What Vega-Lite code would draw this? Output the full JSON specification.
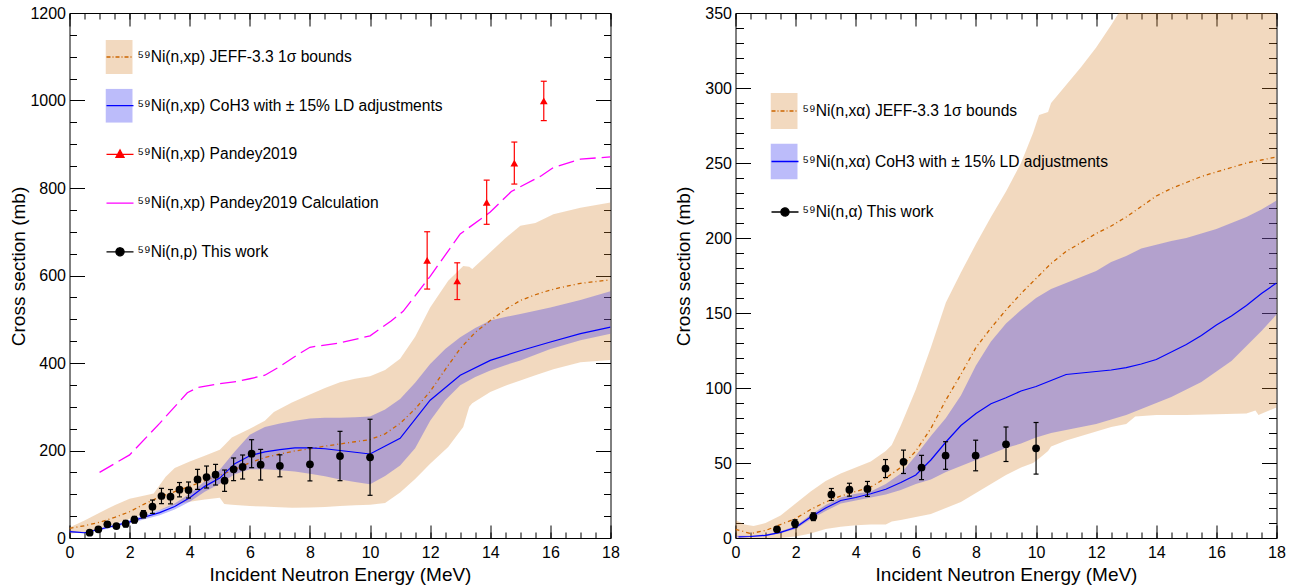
{
  "$schema": "https://vega.github.io/schema/vega-lite/v6.json",
  "background": "white",
  "padding": {"left": 8.5, "top": 4, "right": 5, "bottom": 5},
  "bounds": "flush",
  "spacing": 125,
  "config": {
    "font": "Liberation Sans",
    "view": {"stroke": "#000", "strokeWidth": 1},
    "axis": {"labelFont": "Liberation Sans", "titleFont": "Liberation Sans", "labelFontSize": 16, "titleFontSize": 19, "titleFontWeight": "normal", "labelColor": "#000", "titleColor": "#000", "domainColor": "#000", "tickColor": "#000", "domainWidth": 1, "tickWidth": 1, "grid": false, "ticks": true, "domain": false, "zindex": 1, "labelFlush": false, "labelOverlap": false, "labelBound": false}
  },
  "resolve": {
    "scale": {"x": "independent", "y": "independent", "fill": "independent", "stroke": "independent"},
    "legend": {"fill": "independent", "stroke": "independent"}
  },
  "datasets": {
    "l_jeff_band": [
      {"E": 0, "lo": 10, "hi": 24}, {"E": 0.5, "lo": 14, "hi": 40}, {"E": 1, "lo": 22, "hi": 58}, {"E": 1.5, "lo": 32, "hi": 75},
      {"E": 2, "lo": 44, "hi": 90}, {"E": 2.5, "lo": 55, "hi": 97}, {"E": 2.8, "lo": 60, "hi": 102}, {"E": 3.2, "lo": 68, "hi": 140},
      {"E": 3.5, "lo": 76, "hi": 160}, {"E": 4, "lo": 83, "hi": 175}, {"E": 4.5, "lo": 88, "hi": 188}, {"E": 5, "lo": 92, "hi": 202},
      {"E": 5.15, "lo": 78, "hi": 212}, {"E": 5.4, "lo": 76, "hi": 230}, {"E": 6, "lo": 73, "hi": 250}, {"E": 6.5, "lo": 72, "hi": 268},
      {"E": 6.8, "lo": 71, "hi": 288}, {"E": 7.4, "lo": 69, "hi": 310}, {"E": 8, "lo": 70, "hi": 328}, {"E": 8.5, "lo": 71, "hi": 343},
      {"E": 9, "lo": 73, "hi": 356}, {"E": 9.5, "lo": 75, "hi": 364}, {"E": 10, "lo": 76, "hi": 370}, {"E": 10.5, "lo": 80, "hi": 384},
      {"E": 11, "lo": 104, "hi": 410}, {"E": 11.5, "lo": 135, "hi": 460}, {"E": 12, "lo": 170, "hi": 527}, {"E": 12.6, "lo": 208, "hi": 588},
      {"E": 13.1, "lo": 254, "hi": 622}, {"E": 13.3, "lo": 300, "hi": 620}, {"E": 13.4, "lo": 308, "hi": 615}, {"E": 14, "lo": 334, "hi": 653},
      {"E": 14.5, "lo": 348, "hi": 685}, {"E": 15, "lo": 360, "hi": 714}, {"E": 15.5, "lo": 372, "hi": 720}, {"E": 16.1, "lo": 386, "hi": 740},
      {"E": 17, "lo": 402, "hi": 755}, {"E": 18, "lo": 407, "hi": 767}
    ],
    "l_coh_band": [
      {"E": 0, "lo": 12, "hi": 17}, {"E": 0.5, "lo": 11, "hi": 13.5}, {"E": 1, "lo": 17, "hi": 23}, {"E": 1.5, "lo": 25, "hi": 31},
      {"E": 2, "lo": 33, "hi": 41}, {"E": 2.5, "lo": 43, "hi": 53}, {"E": 3, "lo": 52, "hi": 64}, {"E": 3.5, "lo": 65, "hi": 79},
      {"E": 4, "lo": 83, "hi": 101}, {"E": 4.5, "lo": 106, "hi": 130}, {"E": 5, "lo": 124, "hi": 156}, {"E": 5.5, "lo": 146, "hi": 198},
      {"E": 6, "lo": 157, "hi": 236}, {"E": 6.5, "lo": 157, "hi": 254}, {"E": 7, "lo": 155, "hi": 262}, {"E": 7.5, "lo": 152, "hi": 268},
      {"E": 8, "lo": 147, "hi": 273}, {"E": 8.5, "lo": 141, "hi": 275}, {"E": 9, "lo": 134, "hi": 275}, {"E": 9.5, "lo": 128, "hi": 276},
      {"E": 10, "lo": 123, "hi": 278}, {"E": 10.5, "lo": 142, "hi": 294}, {"E": 11, "lo": 166, "hi": 318}, {"E": 11.5, "lo": 205, "hi": 355},
      {"E": 12, "lo": 268, "hi": 398}, {"E": 12.5, "lo": 315, "hi": 432}, {"E": 13, "lo": 349, "hi": 459}, {"E": 13.5, "lo": 368, "hi": 480},
      {"E": 14, "lo": 383, "hi": 497}, {"E": 14.5, "lo": 395, "hi": 505}, {"E": 15, "lo": 406, "hi": 512}, {"E": 16, "lo": 432, "hi": 527},
      {"E": 17, "lo": 452, "hi": 544}, {"E": 18, "lo": 467, "hi": 564}
    ],
    "l_jeff_line": [
      {"E": 0, "y": 22}, {"E": 0.5, "y": 28}, {"E": 1, "y": 36}, {"E": 1.5, "y": 47}, {"E": 2, "y": 60}, {"E": 2.5, "y": 78},
      {"E": 3, "y": 94}, {"E": 3.5, "y": 106}, {"E": 4, "y": 118}, {"E": 4.5, "y": 131}, {"E": 5, "y": 143}, {"E": 5.5, "y": 157},
      {"E": 6, "y": 172}, {"E": 6.5, "y": 184}, {"E": 7, "y": 192}, {"E": 7.5, "y": 199}, {"E": 8, "y": 204}, {"E": 8.5, "y": 210},
      {"E": 9, "y": 215}, {"E": 9.5, "y": 220}, {"E": 10, "y": 225}, {"E": 10.5, "y": 238}, {"E": 11, "y": 262}, {"E": 11.5, "y": 295},
      {"E": 12, "y": 335}, {"E": 12.5, "y": 385}, {"E": 13, "y": 433}, {"E": 13.5, "y": 470}, {"E": 14, "y": 497}, {"E": 14.5, "y": 522},
      {"E": 15, "y": 543}, {"E": 15.5, "y": 556}, {"E": 16, "y": 567}, {"E": 16.5, "y": 575}, {"E": 17, "y": 582}, {"E": 17.5, "y": 586},
      {"E": 18, "y": 590}
    ],
    "l_coh_line": [
      {"E": 0, "y": 14.5}, {"E": 0.5, "y": 12}, {"E": 1, "y": 20}, {"E": 1.5, "y": 28}, {"E": 2, "y": 37}, {"E": 2.5, "y": 48},
      {"E": 3, "y": 58}, {"E": 3.5, "y": 72}, {"E": 4, "y": 92}, {"E": 4.5, "y": 118}, {"E": 5, "y": 137}, {"E": 5.5, "y": 170},
      {"E": 6, "y": 188}, {"E": 6.5, "y": 197}, {"E": 7, "y": 202}, {"E": 7.5, "y": 206}, {"E": 8, "y": 206}, {"E": 8.5, "y": 204},
      {"E": 9, "y": 200}, {"E": 9.5, "y": 196}, {"E": 10, "y": 192}, {"E": 11, "y": 228}, {"E": 12, "y": 315}, {"E": 13, "y": 372},
      {"E": 14, "y": 406}, {"E": 15, "y": 428}, {"E": 16, "y": 448}, {"E": 17, "y": 467}, {"E": 18, "y": 482}
    ],
    "l_calc_line": [
      {"E": 1, "y": 150}, {"E": 2, "y": 190}, {"E": 3, "y": 262}, {"E": 3.92, "y": 332}, {"E": 4.26, "y": 344}, {"E": 5, "y": 353},
      {"E": 5.6, "y": 358}, {"E": 6, "y": 364}, {"E": 6.5, "y": 372}, {"E": 7, "y": 392}, {"E": 7.5, "y": 415}, {"E": 8, "y": 436},
      {"E": 9, "y": 446}, {"E": 10, "y": 462}, {"E": 10.7, "y": 496}, {"E": 11.1, "y": 518}, {"E": 12, "y": 598}, {"E": 13, "y": 695},
      {"E": 14, "y": 745}, {"E": 14.7, "y": 792}, {"E": 15.7, "y": 828}, {"E": 16.1, "y": 847}, {"E": 17, "y": 866}, {"E": 18, "y": 871}
    ],
    "l_pandey": [
      {"E": 11.9, "y": 634.7, "lo": 569, "hi": 700}, {"E": 12.9, "y": 587.4, "lo": 545, "hi": 629},
      {"E": 13.88, "y": 767.3, "lo": 717, "hi": 818}, {"E": 14.8, "y": 857, "lo": 809, "hi": 905},
      {"E": 15.78, "y": 999, "lo": 954, "hi": 1044}
    ],
    "l_work": [
      {"E": 0.67, "y": 12.1, "lo": 8.1, "hi": 16.1}, {"E": 0.96, "y": 19.9, "lo": 14.9, "hi": 24.9},
      {"E": 1.26, "y": 31.3, "lo": 26.3, "hi": 36.3}, {"E": 1.56, "y": 27.4, "lo": 22.4, "hi": 32.4},
      {"E": 1.87, "y": 32.7, "lo": 25.1, "hi": 40.3}, {"E": 2.16, "y": 41.8, "lo": 34.2, "hi": 49.4},
      {"E": 2.46, "y": 54.2, "lo": 45.8, "hi": 62.6}, {"E": 2.76, "y": 71.5, "lo": 56.3, "hi": 86.7},
      {"E": 3.06, "y": 96, "lo": 78.5, "hi": 113.5}, {"E": 3.36, "y": 94.4, "lo": 78, "hi": 110.8},
      {"E": 3.66, "y": 110.4, "lo": 94, "hi": 126.8}, {"E": 3.96, "y": 109.7, "lo": 91.4, "hi": 128},
      {"E": 4.26, "y": 134, "lo": 111.1, "hi": 156.9}, {"E": 4.56, "y": 139.4, "lo": 114.3, "hi": 164.5},
      {"E": 4.86, "y": 144.7, "lo": 121.1, "hi": 168.3}, {"E": 5.16, "y": 131, "lo": 106.6, "hi": 155.4},
      {"E": 5.46, "y": 157, "lo": 131.1, "hi": 182.9}, {"E": 5.76, "y": 162.3, "lo": 134.9, "hi": 189.7},
      {"E": 6.06, "y": 192.7, "lo": 160.7, "hi": 224.7}, {"E": 6.36, "y": 167.5, "lo": 132.5, "hi": 202.5},
      {"E": 7.0, "y": 165, "lo": 139.9, "hi": 190.1}, {"E": 8.0, "y": 168.5, "lo": 130.5, "hi": 206.5},
      {"E": 9.0, "y": 187.4, "lo": 131, "hi": 243.8}, {"E": 10.0, "y": 184.5, "lo": 97.6, "hi": 271.4}
    ],
    "r_jeff_band": [
      {"E": 0, "lo": 0, "hi": 12}, {"E": 0.3, "lo": 0, "hi": 9}, {"E": 0.6, "lo": 0, "hi": 8}, {"E": 1, "lo": 0, "hi": 10},
      {"E": 1.5, "lo": 0, "hi": 15}, {"E": 2, "lo": 1, "hi": 23}, {"E": 2.5, "lo": 3, "hi": 31}, {"E": 3, "lo": 6, "hi": 38},
      {"E": 3.5, "lo": 7.5, "hi": 43}, {"E": 4, "lo": 8.5, "hi": 47}, {"E": 4.5, "lo": 9, "hi": 51}, {"E": 5, "lo": 9, "hi": 58},
      {"E": 5.2, "lo": 11, "hi": 62}, {"E": 5.5, "lo": 12, "hi": 75}, {"E": 6, "lo": 14, "hi": 99}, {"E": 6.5, "lo": 16, "hi": 127},
      {"E": 7, "lo": 20, "hi": 157}, {"E": 7.5, "lo": 24, "hi": 177}, {"E": 8, "lo": 30, "hi": 196}, {"E": 8.5, "lo": 36, "hi": 214},
      {"E": 9, "lo": 42, "hi": 231}, {"E": 9.5, "lo": 47, "hi": 250}, {"E": 9.9, "lo": 50, "hi": 270}, {"E": 10.1, "lo": 53, "hi": 282},
      {"E": 10.4, "lo": 58, "hi": 284}, {"E": 10.5, "lo": 61, "hi": 290}, {"E": 11, "lo": 65, "hi": 302}, {"E": 11.5, "lo": 68, "hi": 314},
      {"E": 12, "lo": 71, "hi": 327}, {"E": 12.5, "lo": 74, "hi": 342}, {"E": 13, "lo": 76, "hi": 358}, {"E": 13.3, "lo": 81, "hi": 368},
      {"E": 14, "lo": 82, "hi": 390}, {"E": 15, "lo": 82, "hi": 420}, {"E": 16, "lo": 82.5, "hi": 450}, {"E": 17, "lo": 83, "hi": 475},
      {"E": 17.3, "lo": 85, "hi": 480}, {"E": 17.4, "lo": 82, "hi": 482}, {"E": 18, "lo": 87, "hi": 495}
    ],
    "r_coh_band": [
      {"E": 0, "lo": 0.5, "hi": 1.5}, {"E": 0.5, "lo": 0.7, "hi": 1.5}, {"E": 1, "lo": 1.2, "hi": 2.4}, {"E": 1.5, "lo": 3.2, "hi": 4.5},
      {"E": 2, "lo": 6, "hi": 8}, {"E": 2.5, "lo": 12.5, "hi": 15.5}, {"E": 3, "lo": 18, "hi": 22}, {"E": 3.5, "lo": 23, "hi": 27},
      {"E": 4, "lo": 25, "hi": 29.5}, {"E": 4.5, "lo": 27, "hi": 31}, {"E": 5, "lo": 29, "hi": 36}, {"E": 5.5, "lo": 32, "hi": 43},
      {"E": 6, "lo": 36, "hi": 55}, {"E": 6.5, "lo": 39, "hi": 68}, {"E": 7, "lo": 44, "hi": 80}, {"E": 7.5, "lo": 48, "hi": 95},
      {"E": 8, "lo": 52, "hi": 115}, {"E": 8.5, "lo": 56, "hi": 131}, {"E": 9, "lo": 60, "hi": 143}, {"E": 9.5, "lo": 63, "hi": 152},
      {"E": 10, "lo": 67, "hi": 160}, {"E": 10.5, "lo": 70, "hi": 166}, {"E": 11, "lo": 72, "hi": 170}, {"E": 11.5, "lo": 74, "hi": 174},
      {"E": 12, "lo": 76, "hi": 178}, {"E": 12.5, "lo": 79, "hi": 184}, {"E": 13, "lo": 82, "hi": 188}, {"E": 13.5, "lo": 86, "hi": 193},
      {"E": 14, "lo": 90, "hi": 195.5}, {"E": 14.5, "lo": 94, "hi": 198}, {"E": 15, "lo": 99, "hi": 200}, {"E": 15.5, "lo": 104, "hi": 203},
      {"E": 16, "lo": 111, "hi": 206}, {"E": 16.5, "lo": 118, "hi": 210}, {"E": 17, "lo": 128, "hi": 214}, {"E": 17.5, "lo": 138, "hi": 219},
      {"E": 18, "lo": 149, "hi": 225}
    ],
    "r_jeff_line": [
      {"E": 0, "y": 5.8}, {"E": 0.5, "y": 3}, {"E": 1, "y": 5}, {"E": 1.5, "y": 9}, {"E": 2, "y": 13}, {"E": 2.5, "y": 19},
      {"E": 3, "y": 24}, {"E": 3.5, "y": 28}, {"E": 4, "y": 31}, {"E": 4.5, "y": 34}, {"E": 5, "y": 40}, {"E": 5.5, "y": 47},
      {"E": 6, "y": 58}, {"E": 6.5, "y": 73}, {"E": 7, "y": 92}, {"E": 7.5, "y": 109}, {"E": 8, "y": 127}, {"E": 8.5, "y": 140},
      {"E": 9, "y": 152}, {"E": 9.5, "y": 163}, {"E": 10, "y": 173}, {"E": 10.5, "y": 183}, {"E": 11, "y": 191}, {"E": 11.5, "y": 197},
      {"E": 12, "y": 203}, {"E": 12.5, "y": 208}, {"E": 13, "y": 214}, {"E": 13.5, "y": 221}, {"E": 14, "y": 228}, {"E": 14.5, "y": 233},
      {"E": 15, "y": 237}, {"E": 15.5, "y": 241}, {"E": 16, "y": 244}, {"E": 16.5, "y": 247}, {"E": 17, "y": 250}, {"E": 17.5, "y": 252},
      {"E": 18, "y": 254}
    ],
    "r_coh_line": [
      {"E": 0.1, "y": 0.8}, {"E": 0.5, "y": 1}, {"E": 1, "y": 1.8}, {"E": 1.5, "y": 3.8}, {"E": 2, "y": 7}, {"E": 2.5, "y": 14},
      {"E": 3, "y": 20}, {"E": 3.5, "y": 25}, {"E": 4, "y": 27}, {"E": 4.5, "y": 29.5}, {"E": 5, "y": 32.5}, {"E": 5.5, "y": 37},
      {"E": 6, "y": 42}, {"E": 6.5, "y": 52}, {"E": 7, "y": 64}, {"E": 7.5, "y": 75}, {"E": 8, "y": 83}, {"E": 8.5, "y": 89.5},
      {"E": 9, "y": 93.5}, {"E": 9.5, "y": 98}, {"E": 10, "y": 101}, {"E": 10.5, "y": 105}, {"E": 11, "y": 109}, {"E": 11.5, "y": 110},
      {"E": 12, "y": 111}, {"E": 12.5, "y": 112}, {"E": 13, "y": 113.6}, {"E": 13.5, "y": 116}, {"E": 14, "y": 119}, {"E": 14.5, "y": 124},
      {"E": 15, "y": 129}, {"E": 15.5, "y": 135}, {"E": 16, "y": 142}, {"E": 16.5, "y": 148}, {"E": 17, "y": 155}, {"E": 17.5, "y": 163},
      {"E": 18, "y": 170}
    ],
    "r_work": [
      {"E": 1.38, "y": 5.8, "lo": 4.8, "hi": 6.8}, {"E": 1.98, "y": 9.6, "lo": 7, "hi": 12.2},
      {"E": 2.59, "y": 14.2, "lo": 11.6, "hi": 16.8}, {"E": 3.19, "y": 29, "lo": 25, "hi": 33},
      {"E": 3.79, "y": 32.2, "lo": 27.9, "hi": 36.5}, {"E": 4.39, "y": 32.7, "lo": 27.7, "hi": 37.7},
      {"E": 4.99, "y": 46.3, "lo": 40.3, "hi": 52.3}, {"E": 5.59, "y": 50.8, "lo": 43, "hi": 58.6},
      {"E": 6.19, "y": 47, "lo": 38.9, "hi": 55.1}, {"E": 6.99, "y": 55, "lo": 45.8, "hi": 64.2},
      {"E": 7.99, "y": 55, "lo": 44.8, "hi": 65.2}, {"E": 9.0, "y": 62.5, "lo": 51, "hi": 74},
      {"E": 10.0, "y": 59.8, "lo": 42.6, "hi": 77}
    ]
  },
  "hconcat": [
    {
      "width": 541,
      "height": 525,
      "resolve": {"axis": {"x": "independent", "y": "independent"}},
      "layer": [
        {
          "data": {"name": "l_jeff_band"},
          "mark": {"type": "area", "fillOpacity": 0.3, "clip": true},
          "encoding": {
            "x": {"field": "E", "type": "quantitative", "scale": {"domain": [0, 18], "nice": false, "zero": false},
              "axis": {"orient": "bottom", "values": [0,2,4,6,8,10,12,14,16,18], "format": "d",
                "title": "Incident Neutron Energy (MeV)", "tickSize": 13, "offset": -13, "labelPadding": 6,
                "titleX": 270.5, "titleY": 49, "titleBaseline": "middle"}},
            "y": {"field": "lo", "type": "quantitative", "scale": {"domain": [0, 1200], "nice": false},
              "axis": {"orient": "left", "values": [0,200,400,600,800,1000,1200], "format": "d",
                "title": "Cross section (mb)", "tickSize": 15, "offset": -15, "labelPadding": 4,
                "titleX": -66, "titleY": 253, "titleBaseline": "middle"}},
            "y2": {"field": "hi"},
            "fill": {"datum": "⁵⁹Ni(n,xp) JEFF-3.3 1σ bounds", "type": "nominal",
              "scale": {"domain": ["⁵⁹Ni(n,xp) JEFF-3.3 1σ bounds", "⁵⁹Ni(n,xp) CoH3 with ± 15% LD adjustments", "⁵⁹Ni(n,xp) Pandey2019", "⁵⁹Ni(n,xp) Pandey2019 Calculation", "⁵⁹Ni(n,p) This work"],
                "range": ["#d4802a", "#2020ee", "transparent", "transparent", "transparent"]},
              "legend": {"orient": "none", "legendX": 36, "legendY": 27, "title": null, "direction": "vertical",
                "symbolType": "M-1,-1.26H1V1.26H-1Z", "symbolSize": 729, "symbolStrokeWidth": 0,
                "labelFont": "Liberation Sans", "labelFontSize": 15.6, "labelColor": "#000", "labelOffset": 5, "labelLimit": 600,
                "clipHeight": 34, "rowPadding": 14.7, "padding": 0,
                "encode": {"symbols": {"update": {"opacity": {"value": 0.3}, "fillOpacity": {"value": 1}}}}}}
          }
        },
        {
          "data": {"name": "l_coh_band"},
          "mark": {"type": "area", "fillOpacity": 0.3, "clip": true},
          "encoding": {
            "x": {"field": "E", "type": "quantitative",
              "axis": {"orient": "bottom", "values": [0,0.5,1,1.5,2,2.5,3,3.5,4,4.5,5,5.5,6,6.5,7,7.5,8,8.5,9,9.5,10,10.5,11,11.5,12,12.5,13,13.5,14,14.5,15,15.5,16,16.5,17,17.5,18],
                "labels": false, "title": null, "tickSize": 6, "offset": -6}},
            "y": {"field": "lo", "type": "quantitative",
              "axis": {"orient": "left", "values": [0,50,100,150,200,250,300,350,400,450,500,550,600,650,700,750,800,850,900,950,1000,1050,1100,1150,1200],
                "labels": false, "title": null, "tickSize": 7, "offset": -7}},
            "y2": {"field": "hi"},
            "fill": {"datum": "⁵⁹Ni(n,xp) CoH3 with ± 15% LD adjustments", "type": "nominal"}
          }
        },
        {
          "data": {"name": "l_jeff_line"},
          "mark": {"type": "line", "strokeWidth": 1.3, "strokeDash": [4, 3, 1, 3], "clip": true},
          "encoding": {
            "x": {"field": "E", "type": "quantitative",
              "axis": {"orient": "top", "values": [0,2,4,6,8,10,12,14,16,18], "labels": false, "title": null, "tickSize": 13, "offset": -13}},
            "y": {"field": "y", "type": "quantitative",
              "axis": {"orient": "right", "values": [0,200,400,600,800,1000,1200], "labels": false, "title": null, "tickSize": 15, "offset": -15}},
            "stroke": {"datum": "a", "type": "nominal",
              "scale": {"domain": ["a", "b", "c", "d", "e"], "range": ["#cc6600", "#0000ff", "#ff0000", "#ff00ff", "#000000"]},
              "legend": {"orient": "none", "legendX": 36, "legendY": 27, "title": null, "direction": "vertical",
                "symbolType": "stroke", "symbolSize": 729, "symbolStrokeWidth": 1.3,
                "labelFont": "Liberation Sans", "labelFontSize": 15.6, "labelOffset": 5, "labelExpr": "''",
                "clipHeight": 34, "rowPadding": 14.7, "padding": 0,
                "encode": {"symbols": {"update": {
                  "shape": {"signal": "datum.index == 2 ? 'M-1,0H1M0,-0.33L0.3,0.22L-0.3,0.22Z' : (datum.index == 4 ? 'M-1,0H1M0.3,0A0.3,0.3,0,1,1,-0.3,0A0.3,0.3,0,1,1,0.3,0Z' : 'M-1,0H1')"},
                  "fill": {"signal": "datum.index == 2 ? '#ff0000' : (datum.index == 4 ? '#000000' : 'transparent')"},
                  "strokeDash": {"signal": "datum.index == 0 ? [4,2,1,2] : [1,0]"},
                  "opacity": {"value": 1}
                }}}}}
          }
        },
        {
          "data": {"name": "l_coh_line"},
          "mark": {"type": "line", "strokeWidth": 1.2, "clip": true},
          "encoding": {
            "x": {"field": "E", "type": "quantitative",
              "axis": {"orient": "top", "values": [0,0.5,1,1.5,2,2.5,3,3.5,4,4.5,5,5.5,6,6.5,7,7.5,8,8.5,9,9.5,10,10.5,11,11.5,12,12.5,13,13.5,14,14.5,15,15.5,16,16.5,17,17.5,18],
                "labels": false, "title": null, "tickSize": 6, "offset": -6}},
            "y": {"field": "y", "type": "quantitative",
              "axis": {"orient": "right", "values": [0,50,100,150,200,250,300,350,400,450,500,550,600,650,700,750,800,850,900,950,1000,1050,1100,1150,1200],
                "labels": false, "title": null, "tickSize": 7, "offset": -7}},
            "stroke": {"datum": "b", "type": "nominal"}
          }
        },
        {
          "data": {"name": "l_calc_line"},
          "mark": {"type": "line", "strokeWidth": 1.3, "strokeDash": [16, 6], "clip": true},
          "encoding": {
            "x": {"field": "E", "type": "quantitative", "axis": null},
            "y": {"field": "y", "type": "quantitative", "axis": null},
            "stroke": {"datum": "d", "type": "nominal"}
          }
        },
        {
          "data": {"name": "l_pandey"},
          "mark": {"type": "rule", "color": "#ff0000", "strokeWidth": 1.2},
          "encoding": {
            "x": {"field": "E", "type": "quantitative", "axis": null},
            "y": {"field": "lo", "type": "quantitative", "axis": null},
            "y2": {"field": "hi"}
          }
        },
        {
          "data": {"name": "l_pandey"},
          "mark": {"type": "tick", "orient": "horizontal", "color": "#ff0000", "size": 6, "thickness": 1.2, "opacity": 1},
          "encoding": {
            "x": {"field": "E", "type": "quantitative", "axis": null},
            "y": {"field": "lo", "type": "quantitative", "axis": null}
          }
        },
        {
          "data": {"name": "l_pandey"},
          "mark": {"type": "tick", "orient": "horizontal", "color": "#ff0000", "size": 6, "thickness": 1.2, "opacity": 1},
          "encoding": {
            "x": {"field": "E", "type": "quantitative", "axis": null},
            "y": {"field": "hi", "type": "quantitative", "axis": null}
          }
        },
        {
          "data": {"name": "l_pandey"},
          "mark": {"type": "point", "shape": "triangle-up", "filled": true, "color": "#ff0000", "size": 60, "opacity": 1},
          "encoding": {
            "x": {"field": "E", "type": "quantitative", "axis": null},
            "y": {"field": "y", "type": "quantitative", "axis": null}
          }
        },
        {
          "data": {"name": "l_work"},
          "mark": {"type": "rule", "color": "#000000", "strokeWidth": 1.2},
          "encoding": {
            "x": {"field": "E", "type": "quantitative", "axis": null},
            "y": {"field": "lo", "type": "quantitative", "axis": null},
            "y2": {"field": "hi"}
          }
        },
        {
          "data": {"name": "l_work"},
          "mark": {"type": "tick", "orient": "horizontal", "color": "#000000", "size": 5, "thickness": 1.2, "opacity": 1},
          "encoding": {
            "x": {"field": "E", "type": "quantitative", "axis": null},
            "y": {"field": "lo", "type": "quantitative", "axis": null}
          }
        },
        {
          "data": {"name": "l_work"},
          "mark": {"type": "tick", "orient": "horizontal", "color": "#000000", "size": 5, "thickness": 1.2, "opacity": 1},
          "encoding": {
            "x": {"field": "E", "type": "quantitative", "axis": null},
            "y": {"field": "hi", "type": "quantitative", "axis": null}
          }
        },
        {
          "data": {"name": "l_work"},
          "mark": {"type": "point", "shape": "circle", "filled": true, "color": "#000000", "size": 60, "opacity": 1},
          "encoding": {
            "x": {"field": "E", "type": "quantitative", "axis": null},
            "y": {"field": "y", "type": "quantitative", "axis": null}
          }
        }
      ]
    },
    {
      "width": 541,
      "height": 525,
      "resolve": {"axis": {"x": "independent", "y": "independent"}},
      "layer": [
        {
          "data": {"name": "r_jeff_band"},
          "mark": {"type": "area", "fillOpacity": 0.3, "clip": true},
          "encoding": {
            "x": {"field": "E", "type": "quantitative", "scale": {"domain": [0, 18], "nice": false, "zero": false},
              "axis": {"orient": "bottom", "values": [0,2,4,6,8,10,12,14,16,18], "format": "d",
                "title": "Incident Neutron Energy (MeV)", "tickSize": 13, "offset": -13, "labelPadding": 6,
                "titleX": 270.5, "titleY": 49, "titleBaseline": "middle"}},
            "y": {"field": "lo", "type": "quantitative", "scale": {"domain": [0, 350], "nice": false},
              "axis": {"orient": "left", "values": [0,50,100,150,200,250,300,350], "format": "d",
                "title": "Cross section (mb)", "tickSize": 15, "offset": -15, "labelPadding": 4,
                "titleX": -67.5, "titleY": 253, "titleBaseline": "middle"}},
            "y2": {"field": "hi"},
            "fill": {"datum": "⁵⁹Ni(n,xα) JEFF-3.3 1σ bounds", "type": "nominal",
              "scale": {"domain": ["⁵⁹Ni(n,xα) JEFF-3.3 1σ bounds", "⁵⁹Ni(n,xα) CoH3 with ± 15% LD adjustments", "⁵⁹Ni(n,α) This work"],
                "range": ["#d4802a", "#2020ee", "transparent"]},
              "legend": {"orient": "none", "legendX": 35, "legendY": 80, "title": null, "direction": "vertical",
                "symbolType": "M-1,-1.33H1V1.33H-1Z", "symbolSize": 729, "symbolStrokeWidth": 0,
                "labelFont": "Liberation Sans", "labelFontSize": 15.6, "labelColor": "#000", "labelOffset": 5, "labelLimit": 600,
                "clipHeight": 36, "rowPadding": 14.5, "padding": 0,
                "encode": {"symbols": {"update": {"opacity": {"value": 0.3}, "fillOpacity": {"value": 1}}}}}}
          }
        },
        {
          "data": {"name": "r_coh_band"},
          "mark": {"type": "area", "fillOpacity": 0.3, "clip": true},
          "encoding": {
            "x": {"field": "E", "type": "quantitative",
              "axis": {"orient": "bottom", "values": [0,0.5,1,1.5,2,2.5,3,3.5,4,4.5,5,5.5,6,6.5,7,7.5,8,8.5,9,9.5,10,10.5,11,11.5,12,12.5,13,13.5,14,14.5,15,15.5,16,16.5,17,17.5,18],
                "labels": false, "title": null, "tickSize": 6, "offset": -6}},
            "y": {"field": "lo", "type": "quantitative",
              "axis": {"orient": "left", "values": [0,10,20,30,40,50,60,70,80,90,100,110,120,130,140,150,160,170,180,190,200,210,220,230,240,250,260,270,280,290,300,310,320,330,340,350],
                "labels": false, "title": null, "tickSize": 8, "offset": -8}},
            "y2": {"field": "hi"},
            "fill": {"datum": "⁵⁹Ni(n,xα) CoH3 with ± 15% LD adjustments", "type": "nominal"}
          }
        },
        {
          "data": {"name": "r_jeff_line"},
          "mark": {"type": "line", "strokeWidth": 1.3, "strokeDash": [4, 3, 1, 3], "clip": true},
          "encoding": {
            "x": {"field": "E", "type": "quantitative",
              "axis": {"orient": "top", "values": [0,2,4,6,8,10,12,14,16,18], "labels": false, "title": null, "tickSize": 13, "offset": -13}},
            "y": {"field": "y", "type": "quantitative",
              "axis": {"orient": "right", "values": [0,50,100,150,200,250,300,350], "labels": false, "title": null, "tickSize": 15, "offset": -15}},
            "stroke": {"datum": "a", "type": "nominal",
              "scale": {"domain": ["a", "b", "c"], "range": ["#cc6600", "#0000ff", "#000000"]},
              "legend": {"orient": "none", "legendX": 35, "legendY": 80, "title": null, "direction": "vertical",
                "symbolType": "stroke", "symbolSize": 729, "symbolStrokeWidth": 1.3,
                "labelFont": "Liberation Sans", "labelFontSize": 15.6, "labelOffset": 5, "labelExpr": "''",
                "clipHeight": 36, "rowPadding": 14.5, "padding": 0,
                "encode": {"symbols": {"update": {
                  "shape": {"signal": "datum.index == 2 ? 'M-1,0H1M0.3,0A0.3,0.3,0,1,1,-0.3,0A0.3,0.3,0,1,1,0.3,0Z' : 'M-1,0H1'"},
                  "fill": {"signal": "datum.index == 2 ? '#000000' : 'transparent'"},
                  "strokeDash": {"signal": "datum.index == 0 ? [4,2,1,2] : [1,0]"},
                  "opacity": {"value": 1}
                }}}}}
          }
        },
        {
          "data": {"name": "r_coh_line"},
          "mark": {"type": "line", "strokeWidth": 1.2, "clip": true},
          "encoding": {
            "x": {"field": "E", "type": "quantitative",
              "axis": {"orient": "top", "values": [0,0.5,1,1.5,2,2.5,3,3.5,4,4.5,5,5.5,6,6.5,7,7.5,8,8.5,9,9.5,10,10.5,11,11.5,12,12.5,13,13.5,14,14.5,15,15.5,16,16.5,17,17.5,18],
                "labels": false, "title": null, "tickSize": 6, "offset": -6}},
            "y": {"field": "y", "type": "quantitative",
              "axis": {"orient": "right", "values": [0,10,20,30,40,50,60,70,80,90,100,110,120,130,140,150,160,170,180,190,200,210,220,230,240,250,260,270,280,290,300,310,320,330,340,350],
                "labels": false, "title": null, "tickSize": 8, "offset": -8}},
            "stroke": {"datum": "b", "type": "nominal"}
          }
        },
        {
          "data": {"name": "r_work"},
          "mark": {"type": "rule", "color": "#000000", "strokeWidth": 1.2},
          "encoding": {
            "x": {"field": "E", "type": "quantitative", "axis": null},
            "y": {"field": "lo", "type": "quantitative", "axis": null},
            "y2": {"field": "hi"}
          }
        },
        {
          "data": {"name": "r_work"},
          "mark": {"type": "tick", "orient": "horizontal", "color": "#000000", "size": 5, "thickness": 1.2, "opacity": 1},
          "encoding": {
            "x": {"field": "E", "type": "quantitative", "axis": null},
            "y": {"field": "lo", "type": "quantitative", "axis": null}
          }
        },
        {
          "data": {"name": "r_work"},
          "mark": {"type": "tick", "orient": "horizontal", "color": "#000000", "size": 5, "thickness": 1.2, "opacity": 1},
          "encoding": {
            "x": {"field": "E", "type": "quantitative", "axis": null},
            "y": {"field": "hi", "type": "quantitative", "axis": null}
          }
        },
        {
          "data": {"name": "r_work"},
          "mark": {"type": "point", "shape": "circle", "filled": true, "color": "#000000", "size": 60, "opacity": 1},
          "encoding": {
            "x": {"field": "E", "type": "quantitative", "axis": null},
            "y": {"field": "y", "type": "quantitative", "axis": null}
          }
        }
      ]
    }
  ]
}
